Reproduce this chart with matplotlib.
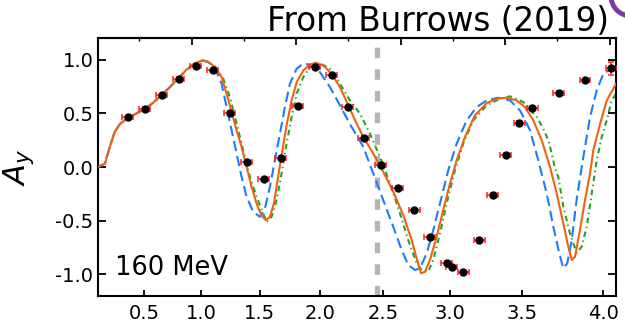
import numpy as np
import matplotlib
matplotlib.use("Agg")
import matplotlib.pyplot as plt
from matplotlib.patches import Circle

plt.rcParams['font.family'] = ['DejaVu Sans']
plt.rcParams['axes.unicode_minus'] = False
plt.rcParams['lines.scale_dashes'] = False

# ---- kinematics: bottom axis labelled in q, plot is linear in CM angle theta (deg)
K2 = 5.27  # 2k (fm^-1)

q_ticks = [0.5, 1.0, 1.5, 2.0, 2.5, 3.0, 3.5, 4.0]
q_labels = ['0.5', '1.0', '1.5', '2.0', '2.5', '3.0', '3.5', '4.0']
theta_major_top = [20, 40, 60, 80, 100]
theta_minor_top = [10, 30, 50, 70, 90]
y_ticks = [-1.0, -0.5, 0.0, 0.5, 1.0]
y_labels = ['-1.0', '-0.5', '0.0', '0.5', '1.0']

# ---- data (theta in degrees, A_y)
data_theta = [7.75, 11.06, 14.26, 17.51, 20.82, 24.08, 27.33, 30.58, 33.84, 37.03,
              40.29, 43.60, 46.85, 49.91, 52.98, 56.23, 59.43, 62.60, 65.61, 68.80,
              69.76, 71.98, 75.04, 77.61, 80.10, 82.70, 85.19, 90.24, 95.27, 100.25]
data_ay = [0.463, 0.540, 0.668, 0.820, 0.938, 0.900, 0.507, 0.051, -0.116, 0.085,
           0.566, 0.931, 0.854, 0.558, 0.271, 0.023, -0.194, -0.405, -0.656, -0.892,
           -0.932, -0.979, -0.681, -0.262, 0.113, 0.410, 0.553, 0.689, 0.810, 0.922]
data_dtheta = [1.05] * 30
data_day = [0.015] * 29 + [0.06]

# ---- curves (theta, A_y)
common_start = [(1.97, 0.0), (3.41, 0.03), (4.36, 0.19), (5.32, 0.33), (6.28, 0.40),
                (7.56, 0.45), (9.47, 0.50), (11.06, 0.54), (12.65, 0.60), (14.26, 0.67),
                (15.85, 0.745), (17.51, 0.83), (19.04, 0.907), (20.63, 0.968),
                (22.11, 0.993), (23.18, 0.98)]

orange_curve = [(24.46, 0.931), (25.74, 0.838), (26.70, 0.684), (27.66, 0.513),
                (28.61, 0.342), (29.57, 0.187), (30.53, 0.0), (31.48, -0.185),
                (32.44, -0.34), (33.40, -0.455), (34.22, -0.495), (34.99, -0.464),
                (35.75, -0.34), (36.46, -0.123), (37.22, 0.11), (38.18, 0.389),
                (39.14, 0.62), (40.10, 0.79), (41.36, 0.90), (42.64, 0.956),
                (43.79, 0.972), (45.19, 0.947), (46.79, 0.87), (48.38, 0.745),
                (49.97, 0.575), (51.58, 0.405), (52.84, 0.28), (54.76, 0.126),
                (56.67, -0.045), (58.58, -0.23), (60.50, -0.448), (62.11, -0.681),
                (63.06, -0.851), (63.89, -0.991), (64.65, -0.976), (65.61, -0.867),
                (66.89, -0.65), (68.15, -0.40), (69.44, -0.153), (70.72, 0.063),
                (72.31, 0.28), (74.22, 0.482), (76.46, 0.596), (78.37, 0.637),
                (80.29, 0.646), (82.20, 0.621), (83.79, 0.559), (85.38, 0.435),
                (86.99, 0.249), (88.58, 0.0), (89.86, -0.247), (91.12, -0.526),
                (92.08, -0.743), (92.73, -0.867), (93.36, -0.836), (94.31, -0.588),
                (95.27, -0.309), (96.23, -0.06), (96.86, 0.156), (98.14, 0.40),
                (99.43, 0.62), (101.21, 0.777)]

blue_curve = [(24.46, 0.92), (25.74, 0.777), (26.70, 0.56), (27.66, 0.342),
              (28.61, 0.126), (29.57, -0.092), (30.53, -0.278), (31.79, -0.418),
              (33.07, -0.464), (34.03, -0.386), (34.99, -0.185), (35.94, 0.063),
              (36.90, 0.31), (37.86, 0.56), (38.81, 0.777), (40.10, 0.916),
              (41.36, 0.963), (42.64, 0.956), (44.55, 0.885), (46.47, 0.745),
              (48.38, 0.575), (50.30, 0.40), (52.84, 0.19), (54.76, -0.06),
              (56.67, -0.309), (58.58, -0.557), (60.19, -0.774), (61.45, -0.913),
              (62.74, -0.96), (63.69, -0.944), (64.98, -0.805), (66.24, -0.588),
              (67.52, -0.34), (69.11, -0.03), (70.72, 0.219), (72.63, 0.435),
              (74.55, 0.559), (76.46, 0.621), (78.68, 0.646), (80.92, 0.621),
              (82.83, 0.528), (84.75, 0.342), (86.33, 0.063), (87.94, -0.247),
              (89.21, -0.557), (90.35, -0.805), (91.12, -0.944), (91.88, -0.898),
              (92.73, -0.681), (93.68, -0.30), (94.64, 0.0), (96.23, 0.466),
              (97.51, 0.714), (98.78, 0.87), (100.38, 0.916), (101.21, 0.926)]

green_curve = [(24.46, 0.94), (26.05, 0.823), (27.33, 0.652), (28.61, 0.405),
               (29.88, 0.156), (31.16, -0.092), (32.44, -0.278), (33.70, -0.433),
               (34.35, -0.51), (35.31, -0.464), (36.27, -0.309), (37.22, -0.06),
               (38.18, 0.219), (39.14, 0.466), (40.10, 0.684), (41.36, 0.838),
               (42.64, 0.931), (44.55, 0.968), (46.47, 0.916), (48.38, 0.777),
               (50.30, 0.621), (52.21, 0.498), (54.13, 0.31), (56.05, 0.094),
               (57.96, -0.153), (59.87, -0.433), (61.45, -0.681), (63.06, -0.898),
               (64.02, -0.96), (65.28, -0.976), (66.24, -0.867), (67.52, -0.619),
               (68.80, -0.34), (70.39, -0.03), (71.98, 0.219), (73.90, 0.435),
               (76.46, 0.575), (79.00, 0.637), (80.92, 0.659), (83.46, 0.606),
               (86.03, 0.466), (87.29, 0.358), (88.25, 0.249), (88.90, 0.126),
               (89.53, -0.014), (90.16, -0.092), (91.12, -0.37), (92.40, -0.62),
               (93.68, -0.80), (94.64, -0.743), (95.60, -0.557), (97.51, 0.063),
               (98.47, 0.28), (99.43, 0.435), (100.38, 0.62), (101.21, 0.684)]

cutoff_theta = 55.4
energy_label = '160 MeV'
source_label = 'From Burrows (2019)'


def theta_of_q(q):
    return 2.0 * np.degrees(np.arcsin(np.asarray(q) / K2))


fig = plt.figure(figsize=(6.25, 3.31), dpi=100)
ax = fig.add_axes([0.156, 0.1066, 0.8296, 0.7777])

ax.axvline(cutoff_theta, color='#b5b5b5', lw=3.8, ls=(0, (7.6, 8.0)), zorder=1)

for pts, col, ls, z in [(green_curve, '#2aa02a', (0, (4.0, 2.6, 1.0, 2.6)), 2),
                        (blue_curve, '#1a7cff', (0, (7.5, 3.6)), 2),
                        (orange_curve, '#ee6212', '-', 3)]:
    full = common_start + pts
    th = [p[0] for p in full]
    ay = [p[1] for p in full]
    ax.plot(th, ay, color=col, lw=1.5, ls=ls, zorder=z)

ax.errorbar(data_theta, data_ay, xerr=data_dtheta, yerr=data_day, fmt='none',
            ecolor='#ff2222', elinewidth=1.1, capsize=2.4, capthick=1.1, zorder=4)
ax.plot(data_theta, data_ay, 'o', color='black', ms=5, zorder=5)

ax.set_xlim(2.0, 101.2)
ax.set_ylim(-1.2, 1.2)

ax.set_xticks(theta_of_q(q_ticks))
ax.set_xticklabels(q_labels)
ax.set_yticks(y_ticks)
ax.set_yticklabels(y_labels)
ax.tick_params(axis='both', direction='in', labelsize=14, width=1.3)
ax.tick_params(axis='y', length=5.5, pad=3, right=True)
ax.tick_params(axis='x', length=4.5, pad=6, top=False)

sec = ax.secondary_xaxis('top')
sec.set_xticks(theta_major_top)
sec.set_xticks(theta_minor_top, minor=True)
sec.tick_params(which='major', direction='in', length=5, width=1.3, labeltop=False)
sec.tick_params(which='minor', direction='in', length=2.5, width=1.0, labeltop=False)
sec.spines['top'].set_linewidth(1.5)

for s in ax.spines.values():
    s.set_linewidth(1.5)

ax.set_ylabel(r'$A_y$', fontsize=22)
ax.yaxis.set_label_coords(-0.118, 0.5)

ax.text(0.034, 0.08, energy_label, transform=ax.transAxes, fontsize=18.5,
        ha='left', va='baseline')

fig.text(0.975, 1 - 31 / 331, source_label, ha='right', va='baseline', fontsize=23.5)

ring = Circle((6.25 + 0.06, 3.31 + 0.04), 0.2, transform=fig.dpi_scale_trans,
              fill=False, edgecolor='#7a3c9e', lw=3.5)
fig.add_artist(ring)

fig.savefig('out.png', dpi=100)
